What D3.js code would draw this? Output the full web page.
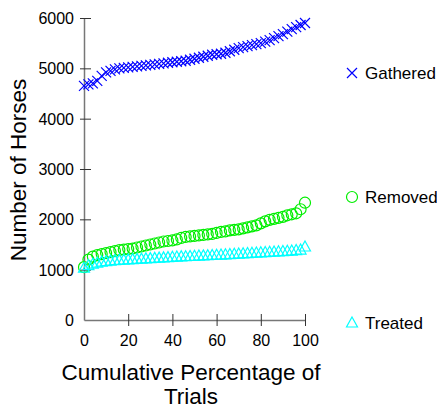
<!DOCTYPE html>
<html><head><meta charset="utf-8">
<script src="https://cdn.jsdelivr.net/npm/d3@7"></script>
<style>body{margin:0;background:#fff}svg{display:block}svg text{font-family:"Liberation Sans",Arial,sans-serif}</style>
</head><body>
<svg id="c" width="437" height="408"></svg>
<script>
const pct = d3.range(0, 101, 2);
const gathered = [4650,4680,4700,4750,4850,4920,4950,4980,5000,5010,5020,5030,5040,5050,5060,5070,5080,5090,5100,5110,5120,5130,5140,5150,5170,5190,5210,5230,5250,5270,5280,5290,5310,5340,5370,5400,5420,5440,5460,5480,5500,5530,5560,5600,5640,5680,5730,5780,5820,5860,5900];
const removed = [1050,1200,1260,1290,1310,1330,1350,1370,1390,1400,1410,1420,1440,1460,1480,1500,1520,1540,1560,1570,1580,1600,1630,1650,1660,1670,1680,1690,1700,1710,1730,1750,1760,1780,1790,1800,1820,1840,1860,1880,1920,1960,1990,2010,2030,2050,2080,2100,2120,2200,2330];
const treated = [1030,1080,1110,1130,1150,1160,1170,1180,1185,1190,1195,1200,1205,1210,1215,1220,1225,1230,1235,1240,1245,1250,1255,1258,1262,1266,1270,1274,1278,1282,1286,1290,1295,1300,1305,1310,1315,1320,1325,1330,1335,1340,1345,1350,1355,1360,1365,1370,1380,1390,1450];
const xTicks = [0,20,40,60,80,100];
const yTicks = [0,1000,2000,3000,4000,5000,6000];
const seriesNames = ["Gathered","Removed","Treated"];
const colors = ["#0000ff","#00ee00","#00ffff"];

const svg = d3.select("#c");
const x = d3.scaleLinear().domain([0,100]).range([84,305]);
const y = d3.scaleLinear().domain([0,6000]).range([320,18]);

// axes
const xa = svg.append("g").attr("transform","translate(0,320)")
  .call(d3.axisBottom(x).tickValues(xTicks).tickFormat(d3.format("d")).tickSizeInner(6).tickSizeOuter(0).tickPadding(7));
xa.selectAll(".tick line").attr("y1",-6).attr("stroke","#333");
const ya = svg.append("g").attr("transform","translate(84,0)")
  .call(d3.axisLeft(y).tickValues(yTicks).tickFormat(d3.format("d")).tickSizeInner(4).tickSizeOuter(0).tickPadding(6));
ya.selectAll(".tick line").attr("x1",7).attr("stroke","#333");
ya.select(".tick line").remove();
xa.select(".tick line").remove();
[xa,ya].forEach(a=>{
  a.attr("font-family",null).attr("font-size",null);
  a.select(".domain").attr("stroke","#777").attr("stroke-width",1.5);
  a.selectAll("text").attr("font-size",16).attr("fill","#000");
});
ya.selectAll(".tick text").attr("dy","0.35em");
xa.selectAll(".tick text").attr("dy","0.8em");

// titles
svg.append("text").attr("transform","translate(26,170) rotate(-90)").attr("text-anchor","middle")
  .attr("font-size",22.5).attr("fill","#000").text("Number of Horses");
svg.append("text").attr("x",191).attr("y",380).attr("text-anchor","middle").attr("font-size",22.5).attr("fill","#000").text("Cumulative Percentage of");
svg.append("text").attr("x",191).attr("y",404).attr("text-anchor","middle").attr("font-size",22.5).attr("fill","#000").text("Trials");

// markers
function drawMarker(g, k, cx, cy){
  if(k===0){
    const s=5;
    g.append("path").attr("d",`M${cx-s},${cy-s}L${cx+s},${cy+s}M${cx-s},${cy+s}L${cx+s},${cy-s}`)
      .attr("stroke",colors[0]).attr("stroke-width",1.2).attr("fill","none");
  } else if(k===1){
    g.append("circle").attr("cx",cx).attr("cy",cy).attr("r",5.5)
      .attr("stroke",colors[1]).attr("stroke-width",1.2).attr("fill","none");
  } else {
    g.append("path").attr("d",`M${cx},${cy-6}L${cx+5.5},${cy+4}L${cx-5.5},${cy+4}Z`)
      .attr("stroke",colors[2]).attr("stroke-width",1.2).attr("fill","none");
  }
}
const data = [gathered, removed, treated];
data.forEach((arr,k)=>{
  const g = svg.append("g");
  arr.forEach((v,i)=>drawMarker(g,k,x(pct[i]),y(v)));
});

// legend
const legY = [73,197,323];
seriesNames.forEach((n,k)=>{
  const g = svg.append("g");
  drawMarker(g,k,352,legY[k]);
  g.append("text").attr("x",365).attr("y",legY[k]).attr("dy","0.35em").attr("font-size",17).attr("fill","#000").text(n);
});
</script>
</body></html>
